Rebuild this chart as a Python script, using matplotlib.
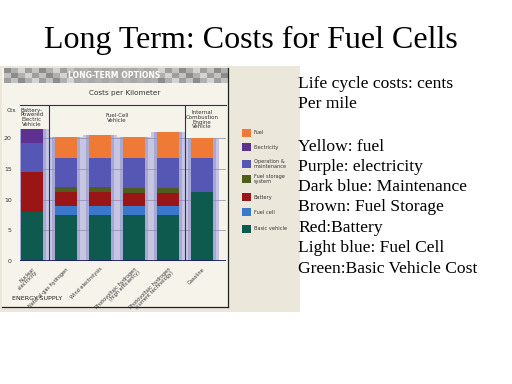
import matplotlib
matplotlib.use("Agg")
import matplotlib.pyplot as plt
from matplotlib.patches import Rectangle
import numpy as np

# ---------------- data ----------------
categories = ["Nuclear\nelectricity", "Natural-gas hydrogen", "Wind electrolysis",
              "Photovoltaic hydrogen\n(high efficiency)",
              "Photovoltaic hydrogen\n(current technology)", "Gasoline"]
series_names = ["Basic vehicle", "Fuel cell", "Battery", "Fuel storage\nsystem",
                "Operation &\nmaintenance", "Electricity", "Fuel"]
basic_vehicle = [8.0, 7.5, 7.5, 7.5, 7.5, 11.3]
fuel_cell = [0.0, 1.5, 1.5, 1.5, 1.5, 0.0]
battery = [6.5, 2.2, 2.2, 2.0, 2.0, 0.0]
fuel_storage = [0.0, 0.8, 0.8, 0.9, 0.9, 0.0]
maintenance = [4.7, 4.8, 4.8, 4.9, 4.9, 5.5]
electricity = [2.3, 0.0, 0.0, 0.0, 0.0, 0.0]
fuel = [0.0, 3.4, 3.7, 3.4, 4.2, 3.2]
yticks = [0, 5, 10, 15, 20]
group_headers = ["Battery-\nPowered\nElectric\nVehicle", "Fuel-Cell\nVehicle",
                 "Internal\nCombustion\nEngine\nVehicle"]
notes = ["Life cycle costs: cents", "Per mile", "",
         "Yellow: fuel", "Purple: electricity", "Dark blue: Maintenance",
         "Brown: Fuel Storage", "Red:Battery", "Light blue: Fuel Cell",
         "Green:Basic Vehicle Cost"]

series = [basic_vehicle, fuel_cell, battery, fuel_storage, maintenance, electricity, fuel]
colors = ["#0f5a4f", "#3b78cc", "#9a1616", "#4f5e1c", "#5656b4", "#5e3190", "#ee7a35"]

serif = ["Liberation Serif", "DejaVu Serif"]

fig = plt.figure(figsize=(5.12, 3.84), dpi=100)
fig.patch.set_facecolor("white")

# background axes in pixel coordinates
bg = fig.add_axes([0, 0, 1, 1])
bg.set_xlim(0, 512)
bg.set_ylim(384, 0)
bg.axis("off")

bg.add_patch(Rectangle((0, 66), 300, 246, facecolor="#ece7db", edgecolor="none", zorder=0))
bg.add_patch(Rectangle((2, 68), 226, 239, facecolor="#f6f3ea", edgecolor="none", zorder=0.5))
bg.plot([228, 228], [68, 307], color="#222222", lw=0.9, zorder=2)
bg.plot([2, 228], [307, 307], color="#222222", lw=0.9, zorder=2)

# checkered header band
rows, cols = 3, 32
pat = np.zeros((rows, cols))
for i in range(rows):
    for j in range(cols):
        pat[i, j] = 0.55 + 0.07 * ((i * 3 + j * 7) % 5)
for j in range(10, 22):
    pat[:, j] = 0.66 + 0.03 * (j % 2)
bg.imshow(pat, extent=(4, 228, 83, 68), cmap="gray", vmin=0, vmax=1,
          aspect="auto", interpolation="nearest", zorder=1)
bg.text(114, 75.5, "LONG-TERM OPTIONS", color="white", fontsize=5.6,
        fontweight="bold", ha="center", va="center", zorder=3)
bg.text(125, 93, "Costs per Kilometer", color="#333333", fontsize=5.2,
        ha="center", va="center")
bg.text(11, 110, "Cts", color="#333333", fontsize=4.2, ha="center", va="center")
bg.text(12, 298, "ENERGY SUPPLY", color="#222222", fontsize=4.6, ha="left", va="center")

# inner legend
legend_y = [229, 212, 197, 179, 164, 147, 133]
for name, col, yy in zip(series_names, colors, legend_y):
    bg.add_patch(Rectangle((242, yy - 4), 9, 8, facecolor=col, edgecolor="none", zorder=2))
    bg.text(254, yy, name, fontsize=3.6, color="#333333", va="center", ha="left",
            linespacing=0.95)

bg.set_xlim(0, 512)
bg.set_ylim(384, 0)

# title and notes
bg.text(251, 40, "Long Term: Costs for Fuel Cells", family=serif, fontsize=23,
        ha="center", va="center", color="black")
note_y = [84, 104, 124, 147, 167, 187, 207, 228, 248, 269]
for t, yy in zip(notes, note_y):
    if t:
        bg.text(298, yy, t, family=serif, fontsize=12.6, ha="left", va="center", color="black")

# chart axes
ax = fig.add_axes([20 / 512, (384 - 261) / 384, 206 / 512, 156 / 384])
ax.patch.set_alpha(0)
x = np.arange(len(categories))
totals = np.sum(np.array(series), axis=0)
ax.bar(x, totals, width=1.0, color="#c6c6e2", zorder=1)
ax.bar(x, totals, width=0.8, color="#a8a8d4", zorder=1.2)
for v in yticks[1:]:
    ax.axhline(v, color="#8a8ab4", lw=0.5, zorder=1.5)

bottom = np.zeros(len(categories))
for vals, col in zip(series, colors):
    ax.bar(x, vals, width=0.62, bottom=bottom, color=col, zorder=3, linewidth=0)
    bottom += np.array(vals)

ax.axhline(0, color="#1c1c6a", lw=2, zorder=4)
ax.axvline(0.5, color="#2a2a80", lw=0.8, zorder=2)
ax.axvline(4.5, color="#2a2a80", lw=0.8, zorder=2)

ax.set_xlim(-0.353, 5.706)
ax.set_ylim(0, 25.4)
for s in ["left", "right", "bottom"]:
    ax.spines[s].set_visible(False)
ax.spines["top"].set_color("#2a2a80")
ax.spines["top"].set_linewidth(0.8)

ax.set_yticks(yticks)
ax.set_yticklabels([str(v) for v in yticks], fontsize=4.5, color="#333333")
ax.tick_params(axis="y", length=0, pad=6)
ax.set_xticks(x)
ax.set_xticklabels(categories, rotation=45, ha="right", va="top",
                   rotation_mode="anchor", fontsize=3.6, color="#333333",
                   linespacing=0.95)
ax.tick_params(axis="x", length=0, pad=4)

header_x = [0, 2.5, 5]
header_y = [23.4, 23.3, 23.0]
for t, hx, hy in zip(group_headers, header_x, header_y):
    ax.text(hx, hy, t, fontsize=4.0, ha="center", va="center", color="#333333",
            linespacing=0.95)

fig.savefig("out.png", dpi=100)
